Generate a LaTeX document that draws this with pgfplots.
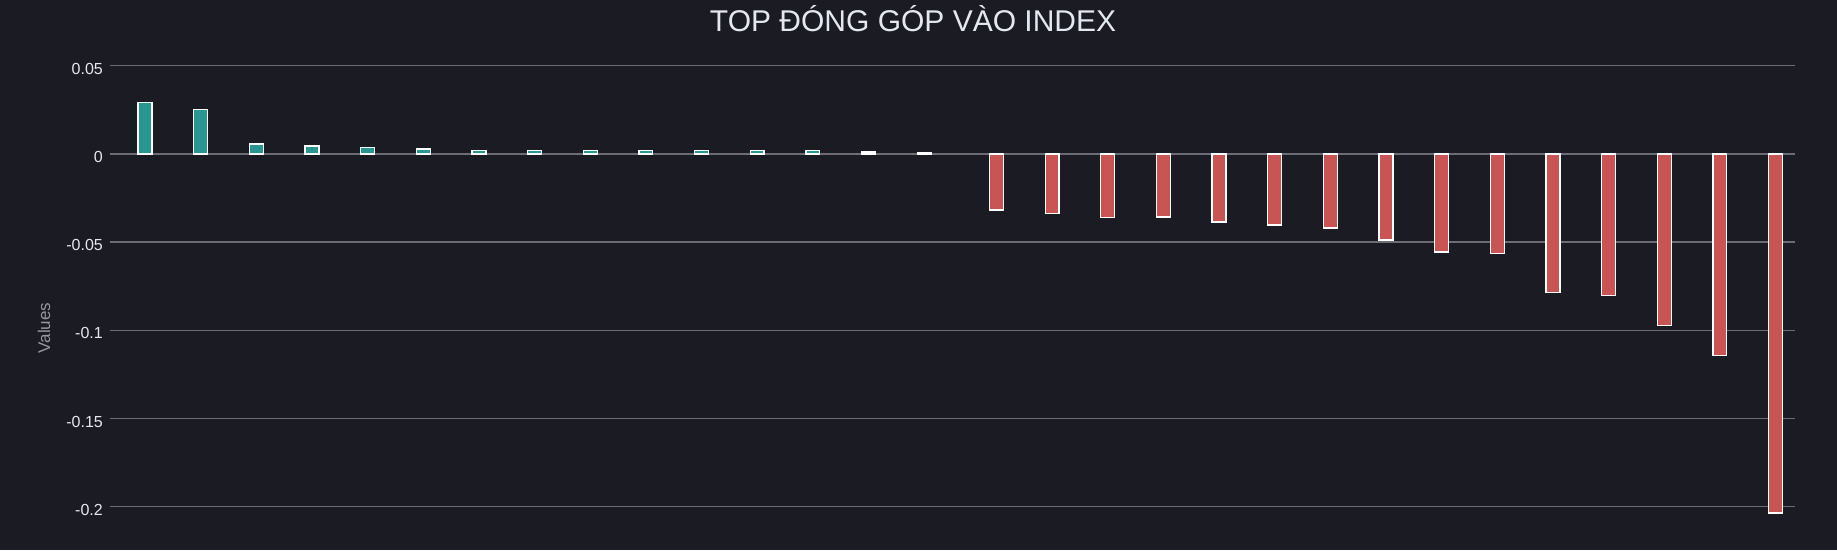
\documentclass[border=0pt]{standalone}
\usepackage{pgfplots}
\pgfplotsset{compat=1.18}
\usepackage{fontspec}
\setmainfont{Liberation Sans}
\definecolor{bgdark}{RGB}{27,27,36}
\definecolor{upteal}{RGB}{42,150,146}
\definecolor{downred}{RGB}{200,84,84}
\definecolor{gridgray}{RGB}{108,108,116}
\definecolor{ticktext}{RGB}{228,232,240}
\definecolor{labeltext}{RGB}{150,150,160}

\begin{document}
\begin{tikzpicture}
    \path[use as bounding box] (0,0) rectangle (1837pt,550pt);
    \fill[bgdark] (0,0) rectangle (1837pt,550pt);
    \begin{axis}[
        at={(110pt,25.6pt)},
        anchor=south west,
        scale only axis,
        width=1685pt,
        height=469.2pt,
        xmin=-0.78, xmax=29.5,
        ymin=-0.21, ymax=0.056,
        xtick=\empty,
        ytick={-0.2,-0.15,-0.1,-0.05,0,0.05},
        yticklabels={-0.2,-0.15,-0.1,-0.05,0,0.05},
        yticklabel style={font=\fontsize{16}{19}\selectfont, text=ticktext,
            anchor=east, inner sep=0pt, xshift=-7pt, yshift=-3pt},
        ymajorgrids,
        major grid style={draw=gridgray, line width=1.4pt},
        axis line style={draw=none},
        major tick length=0pt,
        ylabel={Values},
        ylabel style={font=\fontsize{17}{20}\selectfont, text=labeltext,
            at={(axis description cs:-0.0392,0.4186)}, anchor=center},
        title={TOP ĐÓNG GÓP VÀO INDEX},
        % the default title style already shifts up by 6pt
        title style={font=\fontsize{30}{36}\selectfont, text=ticktext,
            at={(axis description cs:0.4766,1.050)}, anchor=base, yshift=-6pt},
        ybar,
        bar width=0.25,
    ]
    % gainers
    \addplot[ybar, bar shift=-0.15, fill=upteal, draw=white, line width=1.3pt] coordinates {
        (0,0.0293) (1,0.0251) (2,0.0057) (3,0.0045) (4,0.0038)
        (5,0.0028) (6,0.0021) (7,0.0021) (8,0.0021) (9,0.0021)
        (10,0.0021) (11,0.0020) (12,0.0020) (13,0.0011) (14,0.0010)
    };
    % losers
    \addplot[ybar, bar shift=0.15, fill=downred, draw=white, line width=1.3pt] coordinates {
        (15,-0.0317) (16,-0.0336) (17,-0.0359) (18,-0.0357) (19,-0.0385)
        (20,-0.0402) (21,-0.0420) (22,-0.0488) (23,-0.0556) (24,-0.0563)
        (25,-0.0784) (26,-0.0801) (27,-0.0971) (28,-0.1141) (29,-0.2035)
    };
    \end{axis}
\end{tikzpicture}
\end{document}
